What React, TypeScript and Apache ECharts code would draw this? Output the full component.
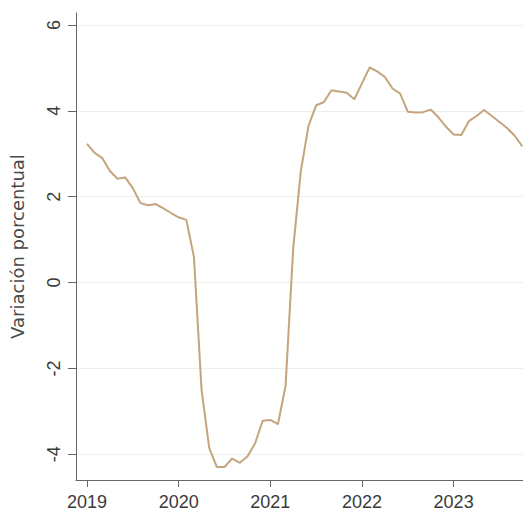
import React, { useEffect, useRef } from "react";
import * as echarts from "echarts";

// Monthly year-on-year variation (%), January to December of each year
const years = [2019, 2020, 2021, 2022, 2023];
const v2019 = [3.23, 3.02, 2.9, 2.6, 2.42, 2.45, 2.2, 1.85, 1.8, 1.83, 1.73, 1.62];
const v2020 = [1.52, 1.46, 0.6, -2.5, -3.85, -4.3, -4.3, -4.1, -4.2, -4.05, -3.75, -3.22];
const v2021 = [-3.2, -3.3, -2.4, 0.8, 2.6, 3.65, 4.13, 4.2, 4.48, 4.45, 4.42, 4.27];
const v2022 = [4.64, 5.01, 4.92, 4.79, 4.52, 4.4, 3.98, 3.96, 3.97, 4.03, 3.85, 3.63];
const v2023 = [3.45, 3.44, 3.76, 3.88, 4.02, 3.88, 3.74, 3.6, 3.42, 3.17];
const yTicks = [-4, -2, 0, 2, 4, 6];
const yName = "Variación porcentual";

export default function App() {
  const ref = useRef<HTMLDivElement>(null);
  useEffect(() => {
    if (!ref.current) return;
    const chart = echarts.init(ref.current, null, { renderer: "svg" });
    const byYear = [v2019, v2020, v2021, v2022, v2023];
    const data: [number, number][] = [];
    byYear.forEach((arr, yi) => {
      arr.forEach((v, m) => data.push([years[yi] + m / 12, v]));
    });
    const font = "'Liberation Sans', Arial, sans-serif";
    chart.setOption({
      animation: false,
      backgroundColor: "#ffffff",
      grid: { left: 68, top: 13, right: 0, bottom: 35 },
      xAxis: {
        type: "value",
        min: 2018.88,
        max: 2023.757,
        axisLine: { show: true, onZero: false, lineStyle: { color: "#666666", width: 1 } },
        axisTick: { show: true, length: 7, customValues: years, lineStyle: { color: "#666666" } },
        axisLabel: {
          customValues: years,
          margin: 13,
          color: "#3a3a3a",
          fontFamily: font,
          fontSize: 18,
          formatter: (v: number) => String(Math.round(v)),
        },
        splitLine: { show: false },
      },
      yAxis: {
        type: "value",
        min: -4.6,
        max: 6.28,
        name: yName,
        nameLocation: "middle",
        nameGap: 50,
        nameTextStyle: { color: "#4a4a4a", fontFamily: "'DejaVu Sans', sans-serif", fontSize: 18 },
        axisLine: { show: true, onZero: false, lineStyle: { color: "#666666", width: 1 } },
        axisTick: { show: true, length: 8, customValues: yTicks, lineStyle: { color: "#666666" } },
        axisLabel: {
          customValues: yTicks,
          rotate: 90,
          margin: 13,
          color: "#3a3a3a",
          fontFamily: font,
          fontSize: 18,
        },
        splitLine: { show: true, lineStyle: { color: "#eeeeee", width: 1 } },
      },
      series: [
        {
          type: "line",
          data,
          showSymbol: false,
          symbol: "none",
          lineStyle: { color: "#c4a57e", width: 2 },
          clip: true,
        },
      ],
    });
    return () => chart.dispose();
  }, []);
  return (
    <div
      ref={ref}
      style={{ position: "fixed", left: 0, top: 0, width: 523, height: 515, background: "#fff" }}
    />
  );
}
